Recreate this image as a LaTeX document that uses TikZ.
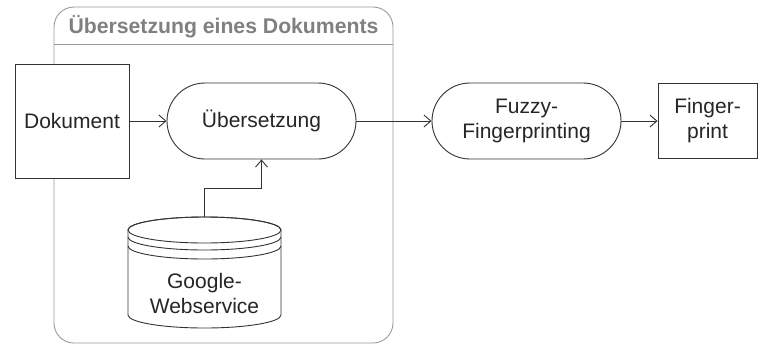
\documentclass[tikz,border=0pt]{standalone}
\usepackage{fontspec}
\setmainfont{Liberation Sans}
\usetikzlibrary{arrows.meta}
\begin{document}
\begin{tikzpicture}[x=1pt,y=-1pt,
  every node/.style={font=\fontsize{21}{25}\selectfont, text=black!85, align=center, inner sep=0pt},
  line/.style={draw=black!80, line width=0.9pt},
  arr/.style={line, -{Straight Barb[length=7pt,width=12pt]}},
  boxnode/.style={line, fill=white},
  stadium/.style={line, fill=white, rounded corners=38pt, minimum width=189pt, minimum height=76pt},
  frame/.style={draw=black!40, line width=0.9pt},
  cylarc/.style={x radius=76.5pt, y radius=13pt}
]
\useasboundingbox (0,0) rectangle (760,346);
% container
\node[frame, rounded corners=20pt, minimum width=339pt, minimum height=336pt] (cont) at (223.5,175) {};
\coordinate (sepL) at (54,44.5);
\coordinate (sepR) at (393,44.5);
\draw[frame] (sepL) -- (sepR);
\node[font=\bfseries\fontsize{21.2}{25}\selectfont, text=black!50, anchor=base] (title) at (223.5,33) {Übersetzung eines Dokuments};
% nodes
\node[boxnode, minimum width=114pt, minimum height=114pt] (dok) at (72,121) {Dokument};
\node[stadium] (ueb) at (261.5,121) {Übersetzung};
\node[stadium] (fuzzy) at (526.5,121) {Fuzzy-\\Fingerprinting};
\node[boxnode, minimum width=99pt, minimum height=75pt] (fp) at (707.5,121) {Finger-\\print};
% cylinder
\draw[line, fill=white] (128,230) -- (128,315) arc[start angle=180, end angle=360, cylarc] -- (281,230) arc[start angle=0, end angle=180, cylarc] -- cycle;
\draw[line] (204.5,230) ellipse [cylarc];
\draw[line] (128,237) arc[start angle=180, end angle=360, cylarc];
\draw[line] (128,246) arc[start angle=180, end angle=360, cylarc];
\node[minimum width=153pt, minimum height=111pt] (cyl) at (204.5,272.5) {};
\node (google) at (204.5,293) {Google-\\Webservice};
% connectors
\draw[arr] (dok) -- (ueb);
\draw[arr] (ueb) -- (fuzzy);
\draw[arr] (fuzzy) -- (fp);
\draw[arr] (cyl.north) -- ++(0,-28) -| (ueb.south);
\end{tikzpicture}
\end{document}
